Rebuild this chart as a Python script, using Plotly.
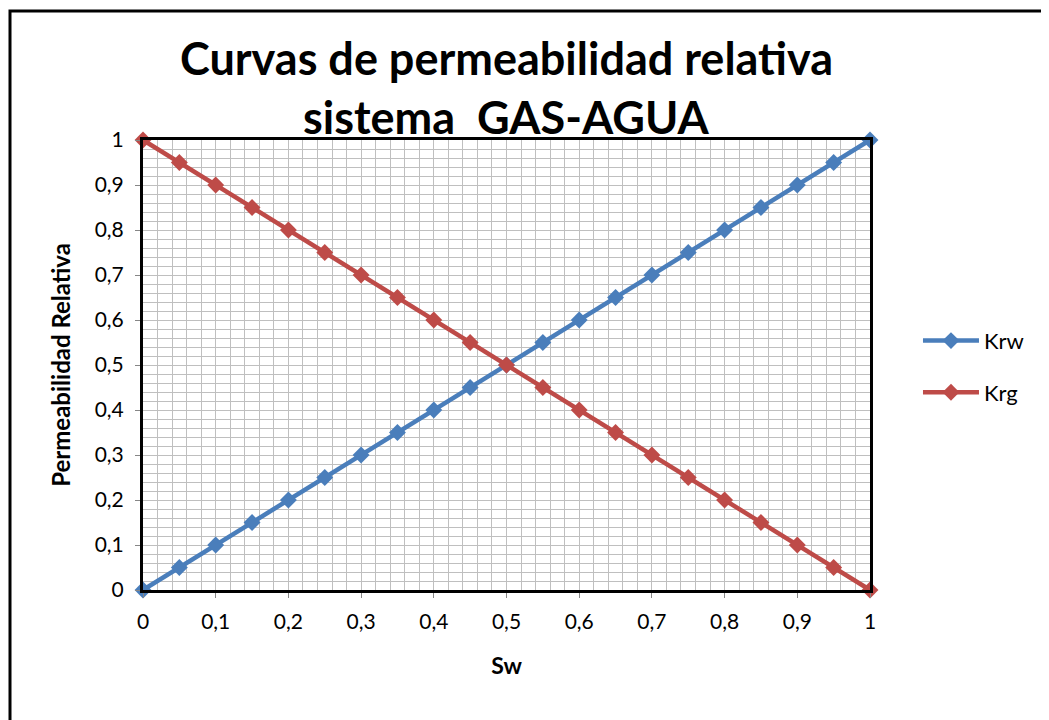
import plotly.graph_objects as go

sw = [0, 0.05, 0.1, 0.15, 0.2, 0.25, 0.3, 0.35, 0.4, 0.45, 0.5,
      0.55, 0.6, 0.65, 0.7, 0.75, 0.8, 0.85, 0.9, 0.95, 1]
krw = [0, 0.05, 0.1, 0.15, 0.2, 0.25, 0.3, 0.35, 0.4, 0.45, 0.5,
       0.55, 0.6, 0.65, 0.7, 0.75, 0.8, 0.85, 0.9, 0.95, 1]
krg = [1, 0.95, 0.9, 0.85, 0.8, 0.75, 0.7, 0.65, 0.6, 0.55, 0.5,
       0.45, 0.4, 0.35, 0.3, 0.25, 0.2, 0.15, 0.1, 0.05, 0]
major_step = 0.1
minor_step = 0.02

FONT = "Lato"
BLUE = "#4a7ebb"
RED = "#be4b48"

fig = go.Figure()
fig.add_trace(go.Scatter(x=sw, y=krw, name="Krw", mode="lines+markers",
                         line=dict(color=BLUE, width=4.5),
                         marker=dict(symbol="diamond", size=13, color=BLUE),
                         legendgroup="a", cliponaxis=False))
fig.add_trace(go.Scatter(x=sw, y=krg, name="Krg", mode="lines+markers",
                         line=dict(color=RED, width=4.5),
                         marker=dict(symbol="diamond", size=13, color=RED),
                         legendgroup="b", cliponaxis=False))

axis_common = dict(
    range=[0, 1], tickmode="linear", tick0=0, dtick=major_step,
    showgrid=True, gridcolor="#bfbfbf", gridwidth=1,
    minor=dict(tickmode="linear", tick0=0, dtick=minor_step, showgrid=True,
               gridcolor="#bfbfbf", gridwidth=1, ticks=""),
    showline=True, linecolor="black", linewidth=3, mirror=True,
    ticks="outside", ticklen=5, tickcolor="#868686",
    tickfont=dict(family=FONT, size=21, color="black"),
    zeroline=False,
)

fig.update_layout(
    width=1041, height=712,
    margin=dict(l=135, r=179, t=132, b=130),
    separators=",.",
    paper_bgcolor="white", plot_bgcolor="white",
    font=dict(family=FONT, color="black"),
    showlegend=True,
    legend=dict(x=1.066, y=0.496, xanchor="left", yanchor="middle",
                font=dict(family=FONT, size=22, color="black"),
                traceorder="grouped", tracegroupgap=20, itemwidth=56,
                bgcolor="rgba(0,0,0,0)"),
    xaxis=dict(axis_common, ticklabelstandoff=6,
               title=dict(text="<b>Sw</b>", font=dict(family=FONT, size=23), standoff=26)),
    yaxis=dict(axis_common, ticklabelstandoff=7,
               title=dict(text="<b>Permeabilidad Relativa</b>", font=dict(family=FONT, size=24), standoff=18)),
    annotations=[
        dict(text="<b>Curvas de permeabilidad relativa</b>", xref="paper", yref="paper",
             x=0.5, y=(590 - 58) / 450, xanchor="center", yanchor="middle",
             showarrow=False, font=dict(family=FONT, size=45, color="black")),
        dict(text="<b>sistema  GAS-AGUA</b>", xref="paper", yref="paper",
             x=0.5, y=(590 - 117) / 450, xanchor="center", yanchor="middle",
             showarrow=False, font=dict(family=FONT, size=45, color="black")),
    ],
    shapes=[
        dict(type="rect", xref="paper", yref="paper",
             x0=(10 - 143) / 727, x1=(1048 - 143) / 727,
             y0=(590 - 740) / 450, y1=(590 - 11) / 450,
             line=dict(color="black", width=3), layer="below"),
    ],
)

fig.write_html("out.html")
